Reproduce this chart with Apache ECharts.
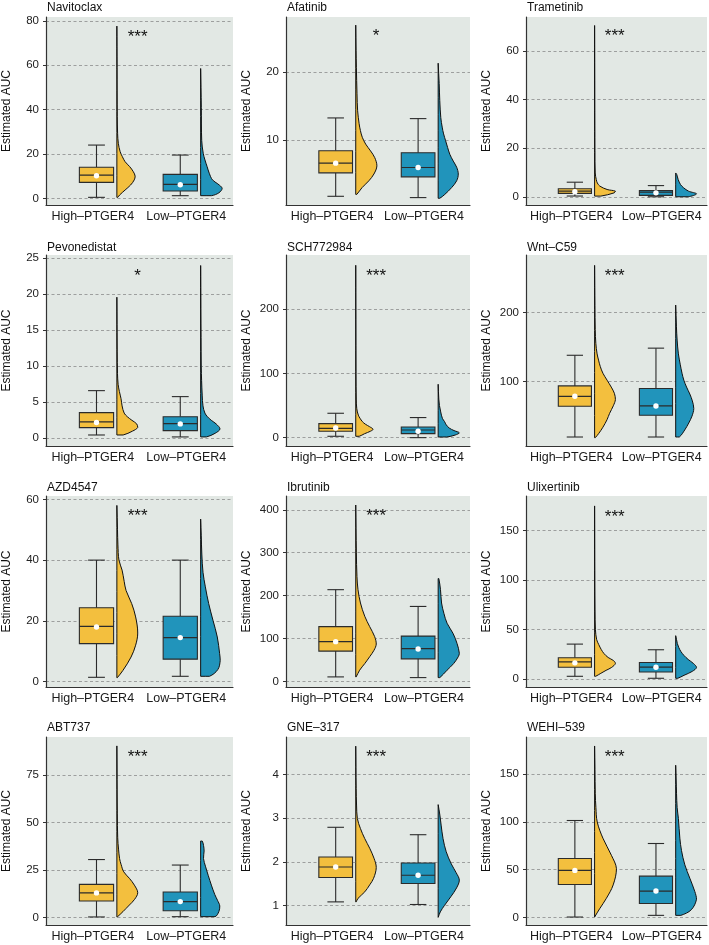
<!DOCTYPE html>
<html>
<head>
<meta charset="utf-8">
<script src="https://cdn.jsdelivr.net/npm/echarts@6/dist/echarts.min.js"></script>
<style>
  html, body { margin: 0; padding: 0; background: #fff; }
  #main { width: 709px; height: 945px; }
</style>
</head>
<body>
<div id="main"></div>
<script>
// drug panels, row by row
const drugs = ['Navitoclax', 'Afatinib', 'Trametinib', 'Pevonedistat', 'SCH772984', 'Wnt–C59',
  'AZD4547', 'Ibrutinib', 'Ulixertinib', 'ABT737', 'GNE–317', 'WEHI–539'];
const groups = ['High–PTGER4', 'Low–PTGER4'];
const stars = ['***', '*', '***', '*', '***', '***', '***', '***', '***', '***', '***', '***'];

// box stats: [lower whisker, q1, median, q3, upper whisker, mean]
const highBox = [
  [0.45, 7.2, 10.5, 14.0, 24.0, 10.2],
  [1.72, 5.17, 6.6, 8.42, 13.25, 6.6],
  [0.3, 1.4, 2.3, 3.3, 6.0, 2.05],
  [0.46, 1.48, 2.27, 3.56, 6.62, 2.2],
  [2.1, 9.9, 14.5, 21.8, 37.9, 15],
  [19.8, 64.3, 78.7, 93.7, 138, 78.7],
  [1.43, 12.5, 18.2, 24.3, 40, 18.0],
  [11, 71, 93, 128, 214, 93],
  [3.0, 12.2, 17.6, 21.7, 35.5, 16.6],
  [0.2, 8.6, 12.9, 17.4, 30.5, 12.9],
  [1.08, 1.64, 1.88, 2.11, 2.79, 1.88],
  [0.35, 34.5, 49.2, 61.7, 101.5, 49.2]
];
const lowBox = [
  [1.2, 3.3, 6.3, 10.8, 19.5, 6.1],
  [1.53, 4.58, 5.96, 8.13, 13.15, 5.96],
  [0, 0.55, 1.9, 2.6, 4.6, 1.6],
  [0.19, 1.06, 2.04, 3.0, 5.79, 2.0],
  [0, 6.2, 11.9, 16.6, 31.2, 9.9],
  [19.8, 51.2, 64.7, 89.9, 148.3, 64.7],
  [1.76, 7.4, 14.5, 21.5, 40, 14.5],
  [9.4, 53, 77, 106, 175, 76],
  [1.0, 7.4, 12.2, 16.9, 29.8, 12.2],
  [0.35, 3.5, 8.3, 13.4, 27.6, 8.3],
  [1.02, 1.5, 1.69, 1.97, 2.62, 1.69],
  [2.1, 14.6, 27.6, 43.2, 77.4, 27.6]
];

// half violin profiles: [value, relative density]
const highDensity = [
  [[0.45,0.05],[1.5,0.15],[3.75,0.45],[6,0.75],[8.3,0.95],[10,1],[12,0.9],[14.3,0.7],[16.5,0.45],[18.8,0.3],[21,0.18],[24.8,0.08],[29.3,0.04],[36.8,0.02],[59,0.01],[77.6,0]],
  [[2.0,0.05],[3.0,0.3],[4.0,0.62],[5.0,0.86],[6.2,1],[7.4,0.9],[8.4,0.7],[9.4,0.47],[10.4,0.31],[11.4,0.22],[12.4,0.16],[14.3,0.09],[16.8,0.06],[20.7,0.03],[23.2,0.015],[26.9,0]],
  [[0.27,0.3],[1.6,0.94],[2.3,1],[3.0,0.6],[4.4,0.25],[5.7,0.13],[7.1,0.08],[9.8,0.03],[19,0.015],[40,0.008],[70.6,0]],
  [[0.46,0.3],[1.0,0.75],[1.5,1],[2.0,0.95],[2.5,0.72],[3.0,0.5],[3.5,0.35],[4.5,0.25],[5.5,0.2],[6.5,0.12],[7.5,0.06],[9,0.03],[12,0.015],[19.6,0]],
  [[2.1,0.2],[6,0.5],[10,0.85],[13,1],[17,0.8],[21,0.55],[25,0.38],[30,0.25],[35,0.15],[45,0.06],[60,0.03],[100,0.015],[268,0]],
  [[18.8,0.03],[25,0.2],[34,0.4],[45,0.6],[54,0.72],[65,0.9],[74,1],[83,0.95],[92,0.8],[102,0.6],[112,0.4],[122,0.27],[131,0.19],[140,0.12],[155,0.06],[175,0.03],[210,0.015],[268,0]],
  [[1.3,0.02],[3.7,0.29],[8.1,0.68],[12,0.9],[16,1],[21.3,0.9],[25.7,0.71],[30,0.44],[33,0.35],[36.7,0.25],[40,0.1],[45,0.05],[50,0.03],[58,0]],
  [[11,0.02],[26.6,0.19],[42,0.44],[58,0.68],[73,0.89],[87.5,1],[105,0.92],[128,0.68],[152,0.44],[183,0.23],[214,0.11],[245,0.06],[300,0.03],[411,0]],
  [[3,0.05],[6,0.3],[9,0.55],[12,0.82],[16,1],[19,0.9],[22,0.65],[26,0.45],[30,0.32],[35,0.2],[40,0.1],[50,0.04],[70,0.02],[100,0.01],[175,0]],
  [[0.2,0.02],[3,0.29],[6.5,0.6],[9.5,0.85],[13,1],[17,0.84],[20.6,0.6],[24,0.33],[28,0.2],[31,0.13],[36,0.08],[42,0.04],[55,0.02],[90.5,0]],
  [[1.08,0.02],[1.16,0.11],[1.31,0.44],[1.47,0.68],[1.62,0.87],[1.87,1],[2.08,0.89],[2.31,0.68],[2.53,0.44],[2.76,0.23],[2.99,0.08],[3.3,0.04],[3.68,0.02],[4.65,0]],
  [[0.35,0],[9,0.23],[20,0.54],[34,0.85],[51,1],[65,0.77],[83,0.38],[100,0.12],[115,0.06],[130,0.03],[155,0.015],[179.6,0]]
];
const lowDensity = [
  [[1.2,0.5],[2.5,0.85],[4.5,1],[6.5,0.8],[8.3,0.55],[11.3,0.4],[14.3,0.3],[17.3,0.2],[20.3,0.12],[26,0.05],[41,0.03],[50,0.015],[58.5,0]],
  [[1.43,0.08],[2.0,0.33],[3.0,0.67],[4.0,0.92],[5.0,1],[6.0,0.92],[6.9,0.75],[7.9,0.58],[8.9,0.47],[9.9,0.37],[10.9,0.27],[11.9,0.2],[13.3,0.13],[15.8,0.08],[18.3,0.05],[21.3,0]],
  [[0,0.6],[1.2,1],[2.3,0.62],[3.7,0.38],[5.05,0.23],[7.1,0.12],[9.2,0.05],[9.8,0]],
  [[0.19,0.3],[0.7,0.75],[1.3,1],[2.0,0.8],[2.5,0.55],[3.0,0.35],[3.5,0.22],[4.5,0.12],[6,0.08],[8,0.05],[10,0.03],[14,0.02],[18,0.01],[24,0]],
  [[1,0.4],[4,0.8],[7.5,1],[11,0.75],[15,0.52],[20,0.38],[25,0.3],[30,0.2],[40,0.12],[50,0.06],[60,0.03],[83,0]],
  [[19.8,0.2],[30,0.5],[40,0.72],[50,0.9],[61,1],[72,0.92],[82,0.78],[92,0.6],[102,0.45],[112,0.35],[125,0.25],[140,0.15],[160,0.08],[180,0.04],[210.6,0]],
  [[1.76,0.45],[4,0.88],[7,1],[9.2,0.97],[14.7,0.85],[20.2,0.63],[25.7,0.41],[31.2,0.24],[36,0.12],[42,0.06],[48,0.03],[53.5,0]],
  [[9.4,0.08],[26.6,0.42],[42,0.73],[58,0.95],[66,1],[89,0.89],[112.5,0.7],[136,0.42],[159,0.27],[183,0.16],[214,0.11],[240,0.03]],
  [[1,0.1],[4,0.4],[8,0.8],[12,1],[16,0.85],[20,0.6],[24,0.4],[28,0.25],[32,0.15],[36,0.08],[40,0.04],[44,0]],
  [[0.35,0.75],[3,0.95],[6,1],[9,0.88],[12,0.74],[17,0.56],[22,0.4],[27,0.25],[31,0.15],[35,0.18],[38,0.15],[40.3,0.08]],
  [[0.725,0],[0.85,0.1],[1.0,0.3],[1.2,0.6],[1.4,0.87],[1.58,1],[1.75,0.85],[1.95,0.62],[2.23,0.38],[2.53,0.23],[2.84,0.14],[3.07,0.08],[3.31,0]],
  [[2.1,0.25],[8,0.75],[19,1],[27,0.92],[41,0.68],[55,0.44],[70,0.28],[83,0.2],[103.6,0.13],[115,0.07],[130,0.04],[145,0.02],[159.4,0]]
];
// peak density of each violin relative to the widest one
const highPeak = [0.85, 1, 1, 0.97, 0.82, 1, 0.97, 0.97, 1, 0.97, 0.97, 1.05];
const lowPeak = [1, 0.95, 1, 0.9, 1, 0.87, 0.91, 1, 1, 0.89, 1, 1];

// y axis ticks and ranges
const yTicks = [
  [0, 20, 40, 60, 80], [10, 20], [0, 20, 40, 60],
  [0, 5, 10, 15, 20, 25], [0, 100, 200], [100, 200],
  [0, 20, 40, 60], [0, 100, 200, 300, 400], [0, 50, 100, 150],
  [0, 25, 50, 75], [1, 2, 3, 4], [0, 50, 100, 150]
];
const yMin = [-3.0, 0.44, -3.4, -1.07, -13, 6.8, -1.76, -12.5, -7.8, -4.05, 0.55, -8];
const yMax = [81.7, 28.1, 74.1, 25.46, 284, 283, 61.1, 432, 185, 95.2, 4.86, 189];

// layout
const colLeft = [46, 286, 526];
const colWidth = [187, 184, 181];
const rowTop = [17, 255, 496, 737];
const rowHeight = [188, 191, 191, 188];
const titleTop = [1.5, 241.5, 482, 722];

const YELLOW = '#F3BF3E';
const BLUE = '#2194BB';
const PANEL_BG = '#E2E8E4';
const FONT = '"Liberation Sans", Arial, Helvetica, sans-serif';
const HIGH_X = 0.27, LOW_X = 0.718, BOX_W = 0.183, CAP_W = 0.09;
const VIOLIN_GAP = 0.109, VIOLIN_W = 0.115, STAR_X = 0.49;

function renderPanel(p) {
  return function (params, api) {
    const g = params.dataIndex;
    const b = (g === 0 ? highBox : lowBox)[p];
    const dens = (g === 0 ? highDensity : lowDensity)[p];
    const peak = (g === 0 ? highPeak : lowPeak)[p];
    const cx = g === 0 ? HIGH_X : LOW_X;
    const fill = g === 0 ? YELLOW : BLUE;
    const pt = (x, y) => api.coord([x, y]);
    const line = (a, c, w) => ({
      type: 'line',
      shape: { x1: a[0], y1: a[1], x2: c[0], y2: c[1] },
      style: { stroke: '#2b2b2b', lineWidth: w || 1.1 }
    });
    const children = [];

    // half violin, base corners doubled so the smoothing keeps the flat side straight
    const vb = cx + VIOLIN_GAP;
    const lo = pt(vb, dens[0][0]), hi = pt(vb, dens[dens.length - 1][0]);
    const poly = [lo, lo.slice()]
      .concat(dens.map(d => pt(vb + d[1] * peak * VIOLIN_W, d[0])))
      .concat([hi, hi.slice()]);
    const xs = poly.map(q => q[0]), ys = poly.map(q => q[1]);
    const bounds = [[Math.min.apply(null, xs), Math.min.apply(null, ys)],
                    [Math.max.apply(null, xs), Math.max.apply(null, ys)]];
    children.push({ type: 'polygon', shape: { points: poly, smooth: 0.35, smoothConstraint: bounds },
      style: { fill: fill, stroke: '#111', lineWidth: 1 } });

    // box and whiskers
    children.push(line(pt(cx, b[3]), pt(cx, b[4])));
    children.push(line(pt(cx, b[1]), pt(cx, b[0])));
    children.push(line(pt(cx - CAP_W / 2, b[4]), pt(cx + CAP_W / 2, b[4])));
    children.push(line(pt(cx - CAP_W / 2, b[0]), pt(cx + CAP_W / 2, b[0])));
    const tl = pt(cx - BOX_W / 2, b[3]), br = pt(cx + BOX_W / 2, b[1]);
    children.push({ type: 'rect',
      shape: { x: tl[0], y: tl[1], width: br[0] - tl[0], height: br[1] - tl[1] },
      style: { fill: fill, stroke: '#2b2b2b', lineWidth: 1.1 } });
    children.push(line(pt(cx - BOX_W / 2, b[2]), pt(cx + BOX_W / 2, b[2]), 1.2));
    const m = pt(cx, b[5]);
    children.push({ type: 'circle', shape: { cx: m[0], cy: m[1], r: 2.7 }, style: { fill: '#fff' } });

    // significance stars above the tallest violin
    if (g === 0) {
      const top = Math.max(highDensity[p][highDensity[p].length - 1][0], lowDensity[p][lowDensity[p].length - 1][0]);
      const s = pt(STAR_X, top);
      children.push({ type: 'text', style: { text: stars[p], x: s[0], y: s[1] + 11,
        align: 'center', verticalAlign: 'middle', fontSize: 17, fontFamily: FONT, fill: '#111' } });
    }
    return { type: 'group', children: children };
  };
}

const grid = [], xAxis = [], yAxis = [], series = [], title = [];
drugs.forEach((name, p) => {
  const r = Math.floor(p / 3), c = p % 3;
  grid.push({ left: colLeft[c], top: rowTop[r], width: colWidth[c], height: rowHeight[r],
    show: true, backgroundColor: PANEL_BG, borderWidth: 0, outerBoundsMode: 'none' });
  title.push({ text: name, left: colLeft[c] + 1, top: titleTop[r], padding: 0,
    textStyle: { fontSize: 12, fontWeight: 'normal', color: '#111', fontFamily: FONT } });
  xAxis.push({ type: 'category', gridIndex: p, data: groups, position: 'bottom',
    axisLine: { onZero: false, lineStyle: { color: '#333', width: 1.2 } },
    axisTick: { show: false },
    axisLabel: { fontSize: 12.5, color: '#1a1a1a', margin: 5, fontFamily: FONT, interval: 0 },
    splitLine: { show: false } });
  xAxis.push({ type: 'value', gridIndex: p, min: 0, max: 1, show: false, position: 'bottom',
    splitLine: { show: false } });
  yAxis.push({ type: 'value', gridIndex: p, min: yMin[p], max: yMax[p],
    name: 'Estimated AUC', nameLocation: 'middle', nameGap: 33, nameMoveOverlap: false,
    nameTextStyle: { fontSize: 12, color: '#111', fontFamily: FONT },
    axisLine: { show: true, onZero: false, lineStyle: { color: '#333', width: 1.2 } },
    axisTick: { show: true, length: 3, customValues: yTicks[p], lineStyle: { color: '#333', width: 1 } },
    axisLabel: { customValues: yTicks[p], fontSize: 11.5, color: '#222', margin: 7, fontFamily: FONT },
    splitLine: { show: true, lineStyle: { color: '#8c8c8c', width: 0.8, type: [3, 2.5] } } });
  series.push({ type: 'custom', xAxisIndex: 2 * p + 1, yAxisIndex: p, clip: false,
    data: [[HIGH_X, highBox[p][2]], [LOW_X, lowBox[p][2]]],
    encode: { x: 0, y: 1 }, renderItem: renderPanel(p), silent: true });
});

const chart = echarts.init(document.getElementById('main'), null, { renderer: 'canvas' });
chart.setOption({
  animation: false,
  backgroundColor: '#fff',
  title: title,
  grid: grid,
  xAxis: xAxis,
  yAxis: yAxis,
  series: series
});
</script>
</body>
</html>
